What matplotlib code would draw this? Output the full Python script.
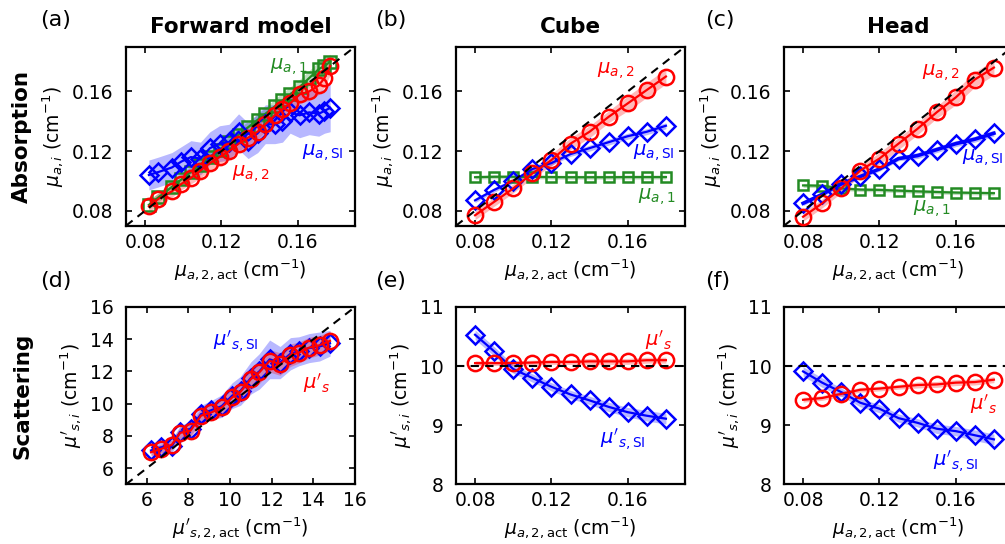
import matplotlib
matplotlib.use("Agg")
import matplotlib.pyplot as plt
import numpy as np

plt.rcParams['font.family'] = ['DejaVu Sans']
plt.rcParams['mathtext.fontset'] = 'dejavusans'

RED = '#ff0000'
BLUE = '#0000ff'
GREEN = '#238b23'

# (a) forward model, absorption
fm_x = [0.082, 0.087, 0.094, 0.099, 0.104, 0.109, 0.114, 0.119, 0.124, 0.129, 0.134,
        0.139, 0.143, 0.148, 0.152, 0.156, 0.161, 0.166, 0.171, 0.174, 0.177]
fm_mua2 = [0.083, 0.088, 0.093, 0.098, 0.102, 0.107, 0.112, 0.116, 0.120, 0.125, 0.129,
           0.133, 0.138, 0.144, 0.148, 0.152, 0.158, 0.160, 0.164, 0.169, 0.177]
fm_mua1 = [0.084, 0.089, 0.096, 0.101, 0.106, 0.111, 0.116, 0.121, 0.126, 0.131, 0.136,
           0.141, 0.145, 0.150, 0.154, 0.158, 0.163, 0.169, 0.175, 0.177, 0.180]
fm_muaSI = [0.104, 0.106, 0.109, 0.113, 0.116, 0.115, 0.122, 0.125, 0.126, 0.133, 0.127,
            0.132, 0.138, 0.138, 0.140, 0.146, 0.144, 0.146, 0.145, 0.147, 0.149]
fm_mua2_sd = [0.004, 0.004, 0.004, 0.004, 0.004, 0.005, 0.005, 0.005, 0.005, 0.005, 0.005,
              0.005, 0.005, 0.006, 0.006, 0.006, 0.006, 0.006, 0.006, 0.006, 0.006]
fm_mua1_sd = [0.003, 0.003, 0.003, 0.003, 0.004, 0.004, 0.004, 0.004, 0.004, 0.004, 0.004,
              0.004, 0.004, 0.005, 0.005, 0.005, 0.005, 0.005, 0.005, 0.005, 0.005]
fm_muaSI_sd = [0.010, 0.010, 0.010, 0.010, 0.011, 0.011, 0.011, 0.012, 0.012, 0.012, 0.012,
               0.013, 0.013, 0.013, 0.014, 0.014, 0.015, 0.015, 0.015, 0.015, 0.016]

# (d) forward model, scattering
fm_xs = [6.2, 6.7, 7.2, 7.6, 8.1, 8.6, 9.1, 9.6, 10.1, 10.5, 11.0, 11.4, 11.9, 12.4,
         12.9, 13.3, 13.8, 14.3, 14.8]
fm_mus = [6.99, 7.20, 7.45, 8.19, 8.33, 9.26, 9.46, 9.77, 10.39, 10.74, 11.53, 11.94,
          12.66, 12.46, 13.01, 13.17, 13.48, 13.63, 13.90]
fm_musSI = [7.10, 7.30, 7.35, 8.25, 8.45, 9.35, 9.60, 9.85, 10.50, 10.80, 11.60, 12.00,
            12.75, 12.55, 13.10, 13.25, 13.45, 13.55, 13.75]
fm_mus_sd = [0.25, 0.30, 0.30, 0.35, 0.40, 0.45, 0.50, 0.55, 0.60, 0.60, 0.65, 0.70,
             0.70, 0.70, 0.70, 0.65, 0.65, 0.60, 0.60]
fm_musSI_sd = [0.30, 0.35, 0.40, 0.40, 0.45, 0.55, 0.60, 0.70, 0.80, 0.90, 1.00, 1.10,
               1.20, 1.00, 1.00, 0.90, 0.90, 0.90, 0.80]

# (b), (c), (e), (f): mu_a,2 actual
act_x = [0.08, 0.09, 0.10, 0.11, 0.12, 0.13, 0.14, 0.15, 0.16, 0.17, 0.18]

cube_mua2 = [0.077, 0.086, 0.095, 0.105, 0.114, 0.125, 0.133, 0.143, 0.152, 0.161, 0.170]
cube_muaSI = [0.087, 0.094, 0.100, 0.108, 0.112, 0.118, 0.122, 0.126, 0.130, 0.133, 0.137]
cube_mua1 = [0.1025, 0.1028, 0.1028, 0.1027, 0.1026, 0.1025, 0.1025, 0.1025, 0.1026, 0.1026, 0.1026]
cube_mus = [10.05, 10.05, 10.05, 10.06, 10.07, 10.07, 10.08, 10.08, 10.08, 10.10, 10.10]
cube_musSI = [10.53, 10.25, 9.95, 9.80, 9.65, 9.52, 9.42, 9.31, 9.22, 9.16, 9.11]

head_mua2 = [0.076, 0.085, 0.095, 0.107, 0.115, 0.125, 0.135, 0.146, 0.156, 0.168, 0.176]
head_muaSI = [0.085, 0.091, 0.098, 0.103, 0.108, 0.115, 0.117, 0.121, 0.125, 0.128, 0.132]
head_mua1 = [0.0970, 0.0968, 0.0950, 0.0942, 0.0940, 0.0935, 0.0930, 0.0926, 0.0922, 0.0920, 0.0918]
head_mus = [9.43, 9.46, 9.53, 9.60, 9.62, 9.65, 9.68, 9.69, 9.72, 9.73, 9.77]
head_musSI = [9.91, 9.72, 9.56, 9.38, 9.28, 9.12, 9.04, 8.94, 8.90, 8.83, 8.76]

mua2_sd = [0.003, 0.003, 0.003, 0.003, 0.004, 0.004, 0.004, 0.004, 0.005, 0.005, 0.005]
muaSI_sd = [0.0015, 0.0015, 0.0015, 0.0015, 0.0015, 0.0015, 0.002, 0.002, 0.002, 0.002, 0.002]
mua1_sd = [0.0013, 0.0013, 0.0013, 0.0013, 0.0013, 0.0013, 0.0013, 0.0013, 0.0013, 0.0013, 0.0013]
mus_sd = [0.04, 0.04, 0.04, 0.04, 0.04, 0.04, 0.05, 0.05, 0.05, 0.05, 0.05]
musSI_sd = [0.08, 0.08, 0.07, 0.07, 0.07, 0.07, 0.07, 0.08, 0.08, 0.09, 0.09]

col_titles = ['Forward model', 'Cube', 'Head']
row_titles = ['Absorption', 'Scattering']
panel_tags = ['(a)', '(b)', '(c)', '(d)', '(e)', '(f)']

W, H = 1005, 544
fig = plt.figure(figsize=(W / 100, H / 100), dpi=100)

lefts = [126, 456, 784]
aw = 229
rows = [(46.7, 225.7), (307, 484.3)]

axes = []
for r, (top, bot) in enumerate(rows):
    for c, l in enumerate(lefts):
        ax = fig.add_axes([l / W, 1 - bot / H, aw / W, (bot - top) / H])
        axes.append(ax)


def band(ax, x, y, sd, color, alpha=0.28):
    y = np.array(y)
    sd = np.array(sd)
    ax.fill_between(x, y - sd, y + sd, color=color, alpha=alpha, lw=0, zorder=1)


def series(ax, x, y, color, marker, ms, lw=1.6):
    ax.plot(x, y, color=color, marker=marker, ms=ms, mfc='none', mew=1.8, lw=lw, zorder=3)


mu_a_x = r'$\mu_{a,2,\mathrm{act}}$ (cm$^{-1}$)'
mu_a_y = r'$\mu_{a,i}$ (cm$^{-1}$)'
mu_s_x = r"$\mu'_{s,2,\mathrm{act}}$ (cm$^{-1}$)"
mu_s_y = r"$\mu'_{s,i}$ (cm$^{-1}$)"
FS_ANN = 14

# (a)
ax = axes[0]
band(ax, fm_x, fm_mua1, fm_mua1_sd, GREEN)
band(ax, fm_x, fm_muaSI, fm_muaSI_sd, BLUE)
band(ax, fm_x, fm_mua2, fm_mua2_sd, RED)
series(ax, fm_x, fm_mua1, GREEN, 's', 9)
series(ax, fm_x, fm_muaSI, BLUE, 'D', 9.5)
series(ax, fm_x, fm_mua2, RED, 'o', 11)
ax.text(0.1454, 0.1764, r'$\mu_{a,1}$', color=GREEN, fontsize=FS_ANN, va='center')
ax.text(0.1621, 0.1191, r'$\mu_{a,\mathrm{SI}}$', color=BLUE, fontsize=FS_ANN, va='center')
ax.text(0.1255, 0.1051, r'$\mu_{a,2}$', color=RED, fontsize=FS_ANN, va='center')

# (b), (c)
for ax, m2, mSI, m1, pos in [
        (axes[1], cube_mua2, cube_muaSI, cube_mua1,
         [(0.1438, 0.1743), (0.1627, 0.1191), (0.1653, 0.0896)]),
        (axes[2], head_mua2, head_muaSI, head_mua1,
         [(0.1422, 0.1730), (0.1632, 0.1158), (0.1375, 0.0816)])]:
    band(ax, act_x, m1, mua1_sd, GREEN)
    band(ax, act_x, mSI, muaSI_sd, BLUE)
    band(ax, act_x, m2, mua2_sd, RED)
    series(ax, act_x, m1, GREEN, 's', 7)
    series(ax, act_x, mSI, BLUE, 'D', 9.5, lw=2.6 if ax is axes[2] else 1.6)
    series(ax, act_x, m2, RED, 'o', 11)
    ax.text(*pos[0], r'$\mu_{a,2}$', color=RED, fontsize=FS_ANN, va='center')
    ax.text(*pos[1], r'$\mu_{a,\mathrm{SI}}$', color=BLUE, fontsize=FS_ANN, va='center')
    ax.text(*pos[2], r'$\mu_{a,1}$', color=GREEN, fontsize=FS_ANN, va='center')

# (d)
ax = axes[3]
band(ax, fm_xs, fm_musSI, fm_musSI_sd, BLUE)
band(ax, fm_xs, fm_mus, fm_mus_sd, RED)
series(ax, fm_xs, fm_musSI, BLUE, 'D', 9.5)
series(ax, fm_xs, fm_mus, RED, 'o', 11)
ax.text(9.17, 13.9, r"$\mu'_{s,\mathrm{SI}}$", color=BLUE, fontsize=FS_ANN, va='center')
ax.text(13.49, 11.3, r"$\mu'_{s}$", color=RED, fontsize=FS_ANN, va='center')

# (e), (f)
for ax, ms_, msSI, pos in [
        (axes[4], cube_mus, cube_musSI, [(0.169, 10.44), (0.1454, 8.77)]),
        (axes[5], head_mus, head_musSI, [(0.1674, 9.36), (0.148, 8.40)])]:
    band(ax, act_x, msSI, musSI_sd, BLUE)
    band(ax, act_x, ms_, mus_sd, RED)
    series(ax, act_x, msSI, BLUE, 'D', 9.5)
    series(ax, act_x, ms_, RED, 'o', 11)
    ax.text(*pos[0], r"$\mu'_{s}$", color=RED, fontsize=FS_ANN, va='center')
    ax.text(*pos[1], r"$\mu'_{s,\mathrm{SI}}$", color=BLUE, fontsize=FS_ANN, va='center')

# axes styling
for i, ax in enumerate(axes):
    if i == 3:
        ax.set_xlim(5, 16)
        ax.set_ylim(5, 16)
        ax.set_xticks([6, 8, 10, 12, 14, 16])
        ax.set_yticks([6, 8, 10, 12, 14, 16])
        ax.plot([5, 16], [5, 16], 'k--', lw=1.5, dashes=(4, 3), zorder=5)
        ax.set_xlabel(mu_s_x, fontsize=13.5, labelpad=4)
        ax.set_ylabel(mu_s_y, fontsize=13.5, labelpad=4)
    else:
        ax.set_xlim(0.07, 0.19)
        ax.set_xticks([0.08, 0.12, 0.16])
        ax.set_xticklabels(['0.08', '0.12', '0.16'])
        ax.set_xlabel(mu_a_x, fontsize=13.5, labelpad=4)
        if i < 3:
            ax.set_ylim(0.07, 0.19)
            ax.set_yticks([0.08, 0.12, 0.16])
            ax.set_yticklabels(['0.08', '0.12', '0.16'])
            ax.plot([0.07, 0.19], [0.07, 0.19], 'k--', lw=1.5, dashes=(4, 3), zorder=5)
            ax.set_ylabel(mu_a_y, fontsize=13.5, labelpad=4)
        else:
            ax.set_ylim(8, 11)
            ax.set_yticks([8, 9, 10, 11])
            ax.axhline(10, color='k', ls='--', lw=1.5, dashes=(4, 3), zorder=5)
            ax.set_ylabel(mu_s_y, fontsize=13.5, labelpad=4)
    ax.tick_params(direction='in', top=True, right=True, length=4, width=1.2, labelsize=13.5)
    ax.tick_params(axis='y', pad=9)
    ax.tick_params(axis='x', pad=5)
    for s in ax.spines.values():
        s.set_linewidth(1.6)

# column titles, row titles, panel tags
for c, t in enumerate(col_titles):
    fig.text((lefts[c] + aw / 2) / W, 1 - 27 / H, t, fontsize=15.5, fontweight='bold',
             ha='center', va='center')
for r, t in enumerate(row_titles):
    top, bot = rows[r]
    fig.text(22 / W, 1 - (top + bot) / 2 / H, t, fontsize=15.5, fontweight='bold',
             rotation=90, ha='center', va='center')
tag_x = [40, 375, 705]
tag_y = [20, 281]
for k, t in enumerate(panel_tags):
    fig.text(tag_x[k % 3] / W, 1 - tag_y[k // 3] / H, t, fontsize=16, ha='left', va='center')

fig.savefig('out.png', dpi=100)
